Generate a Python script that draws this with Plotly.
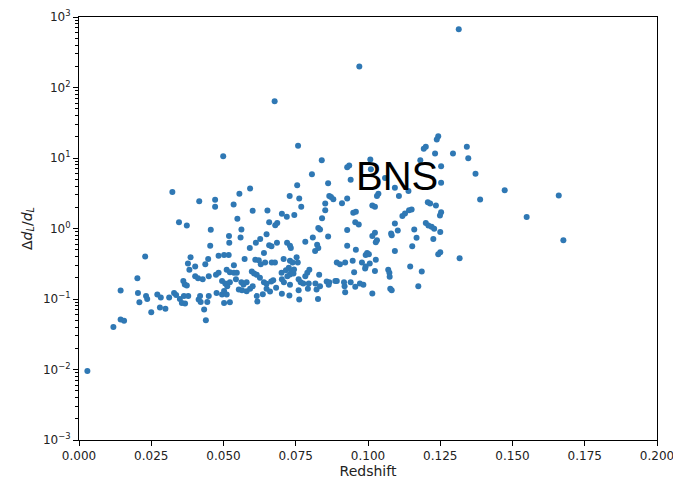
import plotly.graph_objects as go

redshift = [
    0.0677, 0.0758, 0.0499, 0.0840, 0.0806, 0.0935, 0.0928, 0.0940, 0.0862, 0.0755,
    0.0592, 0.0323, 0.0555, 0.0729, 0.0866, 0.0872, 0.0880, 0.0762, 0.0471, 0.0416,
    0.0928, 0.0910, 0.0852, 0.0535, 0.0471, 0.0769, 0.0601, 0.0652, 0.0852, 0.0702,
    0.0719, 0.0745, 0.0949, 0.0958, 0.0548, 0.0841, 0.0346, 0.0373, 0.0686, 0.0679,
    0.0658, 0.0956, 0.0968, 0.0828, 0.0834, 0.0456, 0.0562, 0.0928, 0.0649, 0.0519,
    0.0559, 0.0809, 0.0862, 0.0627, 0.0612, 0.0520, 0.0685, 0.0783, 0.0658, 0.0666,
    0.0720, 0.0730, 0.0733, 0.0824, 0.0828, 0.0817, 0.0454, 0.0928, 0.0958, 0.0591,
    0.0640, 0.0997, 0.0992, 0.0229, 0.0483, 0.0502, 0.0518, 0.0447, 0.0386, 0.0573,
    0.0610, 0.0622, 0.0629, 0.0644, 0.0667, 0.0678, 0.0708, 0.0730, 0.0739, 0.0753,
    0.0757, 0.0892, 0.0903, 0.0921, 0.0947, 0.0979, 0.0377, 0.0402, 0.0437, 0.0536,
    0.0382, 0.0511, 0.0522, 0.0536, 0.0546, 0.0598, 0.0606, 0.0615, 0.0474, 0.0483,
    0.0626, 0.0701, 0.0716, 0.0726, 0.0735, 0.0730, 0.0721, 0.0742, 0.0744, 0.0790,
    0.0797, 0.0783, 0.0831, 0.0892, 0.0952, 0.0202, 0.0361, 0.0366, 0.0373, 0.0402,
    0.0412, 0.0428, 0.0449, 0.0495, 0.0506, 0.0513, 0.0522, 0.0543, 0.0562, 0.0569,
    0.0580, 0.0640, 0.0649, 0.0665, 0.0672, 0.0702, 0.0709, 0.0730, 0.0760, 0.0767,
    0.0776, 0.0795, 0.0818, 0.0834, 0.0857, 0.0866, 0.0887, 0.0917, 0.0919, 0.0940,
    0.0956, 0.0972, 0.0984, 0.0144, 0.0204, 0.0232, 0.0236, 0.0271, 0.0283, 0.0312,
    0.0329, 0.0336, 0.0349, 0.0356, 0.0367, 0.0363, 0.0378, 0.0414, 0.0419, 0.0421,
    0.0449, 0.0444, 0.0433, 0.0439, 0.0476, 0.0495, 0.0502, 0.0511, 0.0522, 0.0502,
    0.0553, 0.0564, 0.0580, 0.0592, 0.0601, 0.0615, 0.0617, 0.0636, 0.0649, 0.0661,
    0.0682, 0.0702, 0.0728, 0.0760, 0.0762, 0.0792, 0.0827, 0.0822, 0.0864, 0.0921,
    0.0119, 0.0144, 0.0156, 0.0250, 0.0280, 0.0299, 0.0209, 0.0029,
    0.1314, 0.0970, 0.1243, 0.1238, 0.1200, 0.1193, 0.1342, 0.1294, 0.1232, 0.1347,
    0.1008, 0.1181, 0.1253, 0.1372, 0.1010, 0.1059, 0.1093, 0.1140, 0.1253, 0.1036,
    0.1031, 0.1107, 0.1207, 0.1215, 0.1235, 0.1015, 0.1024, 0.1253, 0.1249, 0.1128,
    0.1119, 0.1142, 0.1151, 0.1093, 0.1103, 0.1082, 0.1080, 0.1160, 0.1168, 0.1200,
    0.1209, 0.1220, 0.1229, 0.1250, 0.1226, 0.1024, 0.1015, 0.1031, 0.1027, 0.1153,
    0.1093, 0.1250, 0.1243, 0.1317, 0.1027, 0.1146, 0.1186, 0.1070, 0.1074, 0.1075,
    0.1024, 0.1174, 0.1077, 0.1082, 0.1015, 0.1006, 0.0992, 0.0990, 0.1003, 0.1473,
    0.1660, 0.1388, 0.1549, 0.1676,
]

delta_dl = [
    64, 14.9, 10.6, 9.3, 5.9, 7.8, 7.4, 4.9, 4.4, 4.1,
    3.7, 3.3, 3.1, 2.9, 2.9, 2.8, 2.6, 2.67, 2.55, 2.44,
    2.67, 2.29, 2.26, 2.19, 2.03, 2.03, 1.78, 1.80, 1.82, 1.62,
    1.47, 1.55, 1.67, 1.73, 1.37, 1.40, 1.23, 1.10, 1.20, 1.11,
    1.23, 1.23, 1.14, 1.02, 0.97, 0.96, 0.97, 0.95, 0.83, 0.78,
    0.745, 0.745, 0.77, 0.71, 0.63, 0.63, 0.63, 0.65, 0.58, 0.56,
    0.63, 0.57, 0.53, 0.59, 0.53, 0.48, 0.57, 0.57, 0.50, 0.53,
    0.45, 0.45, 0.42, 0.40, 0.41, 0.42, 0.42, 0.37, 0.39, 0.37,
    0.36, 0.355, 0.31, 0.33, 0.33, 0.33, 0.37, 0.35, 0.33, 0.39,
    0.33, 0.33, 0.31, 0.33, 0.35, 0.33, 0.32, 0.29, 0.31, 0.30,
    0.26, 0.26, 0.24, 0.235, 0.235, 0.245, 0.23, 0.22, 0.22, 0.235,
    0.20, 0.235, 0.256, 0.277, 0.251, 0.223, 0.211, 0.23, 0.262, 0.235,
    0.26, 0.21, 0.22, 0.18, 0.24, 0.197, 0.18, 0.16, 0.155, 0.21,
    0.197, 0.19, 0.21, 0.18, 0.166, 0.152, 0.173, 0.19, 0.173, 0.16,
    0.173, 0.173, 0.165, 0.177, 0.185, 0.19, 0.173, 0.159, 0.19, 0.173,
    0.166, 0.166, 0.166, 0.152, 0.177, 0.173, 0.18, 0.173, 0.152, 0.173,
    0.149, 0.166, 0.159, 0.132, 0.122, 0.110, 0.10, 0.116, 0.105, 0.105,
    0.122, 0.114, 0.10, 0.088, 0.086, 0.110, 0.11, 0.098, 0.11, 0.091,
    0.11, 0.091, 0.071, 0.050, 0.122, 0.116, 0.13, 0.116, 0.090, 0.088,
    0.136, 0.133, 0.129, 0.14, 0.152, 0.11, 0.092, 0.117, 0.14, 0.128,
    0.144, 0.119, 0.112, 0.133, 0.098, 0.14, 0.10, 0.136, 0.159, 0.125,
    0.040, 0.051, 0.049, 0.065, 0.076, 0.073, 0.090, 0.0095,
    671, 199, 20.4, 18.3, 14.4, 13.5, 14.4, 11.6, 11.6, 9.9,
    9.5, 9.3, 7.65, 6.0, 6.9, 5.2, 3.8, 3.4, 4.45, 3.1,
    2.9, 2.9, 2.36, 2.26, 2.12, 2.12, 2.03, 1.70, 1.53, 1.63,
    1.50, 1.82, 1.86, 1.18, 0.94, 0.80, 0.85, 0.97, 0.74, 1.20,
    1.10, 1.06, 0.99, 0.89, 0.71, 0.87, 0.78, 0.68, 0.64, 0.56,
    0.48, 0.46, 0.43, 0.38, 0.36, 0.29, 0.245, 0.26, 0.235, 0.206,
    0.25, 0.152, 0.14, 0.133, 0.12, 0.32, 0.29, 0.27, 0.43, 3.49,
    2.94, 2.58, 1.45, 0.68,
]

x_ticks = [0.0, 0.025, 0.05, 0.075, 0.1, 0.125, 0.15, 0.175, 0.2]
x_labels = ["0.000", "0.025", "0.050", "0.075", "0.100", "0.125", "0.150", "0.175", "0.200"]
y_ticks = [1e-3, 1e-2, 1e-1, 1e0, 1e1, 1e2, 1e3]
y_labels = ["10<sup>\u22123</sup>", "10<sup>\u22122</sup>", "10<sup>\u22121</sup>",
            "10<sup>0</sup>", "10<sup>1</sup>", "10<sup>2</sup>", "10<sup>3</sup>"]
y_minor = [m * d for d in y_ticks[:-1] for m in range(2, 10)]

font_family = "DejaVu Sans, sans-serif"

fig = go.Figure()
fig.add_trace(go.Scatter(
    x=redshift, y=delta_dl, mode="markers",
    marker=dict(color="#2f78b4", size=6, line=dict(width=0)),
    showlegend=False,
))
# transparent copy bound to the overlay axis that carries the minor ticks
fig.add_trace(go.Scatter(
    x=redshift, y=delta_dl, mode="markers", yaxis="y2",
    marker=dict(opacity=0, size=1), showlegend=False, hoverinfo="skip",
))

fig.add_annotation(
    x=0.1099, y=0.74, xref="x", yref="y",
    text="BNS", showarrow=False,
    font=dict(family="Liberation Sans, Arial, sans-serif", size=40, color="black"),
)

fig.update_layout(
    width=673, height=484,
    margin=dict(l=79, r=16, t=17, b=44),
    plot_bgcolor="white", paper_bgcolor="white",
    xaxis=dict(
        range=[0, 0.2000001], tickmode="array", tickvals=x_ticks, ticktext=x_labels,
        ticklabeloverflow="allow", automargin=False,
        showgrid=False, zeroline=False,
        showline=True, mirror=True, linecolor="black", linewidth=1,
        ticks="outside", ticklen=5, tickcolor="black", tickwidth=1,
        tickfont=dict(family=font_family, size=12, color="#222"),
        title=dict(text="Redshift", font=dict(family=font_family, size=14, color="#222"), standoff=0),
    ),
    yaxis=dict(
        type="log", range=[-3, 3], tickmode="array", tickvals=y_ticks, ticktext=y_labels,
        automargin=False,
        showgrid=False, zeroline=False,
        showline=True, mirror=True, linecolor="black", linewidth=1,
        ticks="outside", ticklen=5, tickcolor="black", tickwidth=1,
        minor=dict(dtick="D1", ticks="outside", ticklen=3, tickcolor="black",
                   tickwidth=1, showgrid=False),
        tickfont=dict(family=font_family, size=12, color="#222"),
        title=dict(text="\u0394<i>d<sub>L</sub></i>/<i>d<sub>L</sub></i>",
                   font=dict(family=font_family, size=14, color="#222"), standoff=7),
    ),
    yaxis2=dict(
        type="log", range=[-3, 3], overlaying="y", side="left", anchor="x",
        tickmode="array", tickvals=y_minor, showticklabels=False,
        ticks="outside", ticklen=3, tickcolor="black", tickwidth=1,
        showgrid=False, zeroline=False, showline=False, automargin=False,
    ),
)

fig.write_html("out.html")
